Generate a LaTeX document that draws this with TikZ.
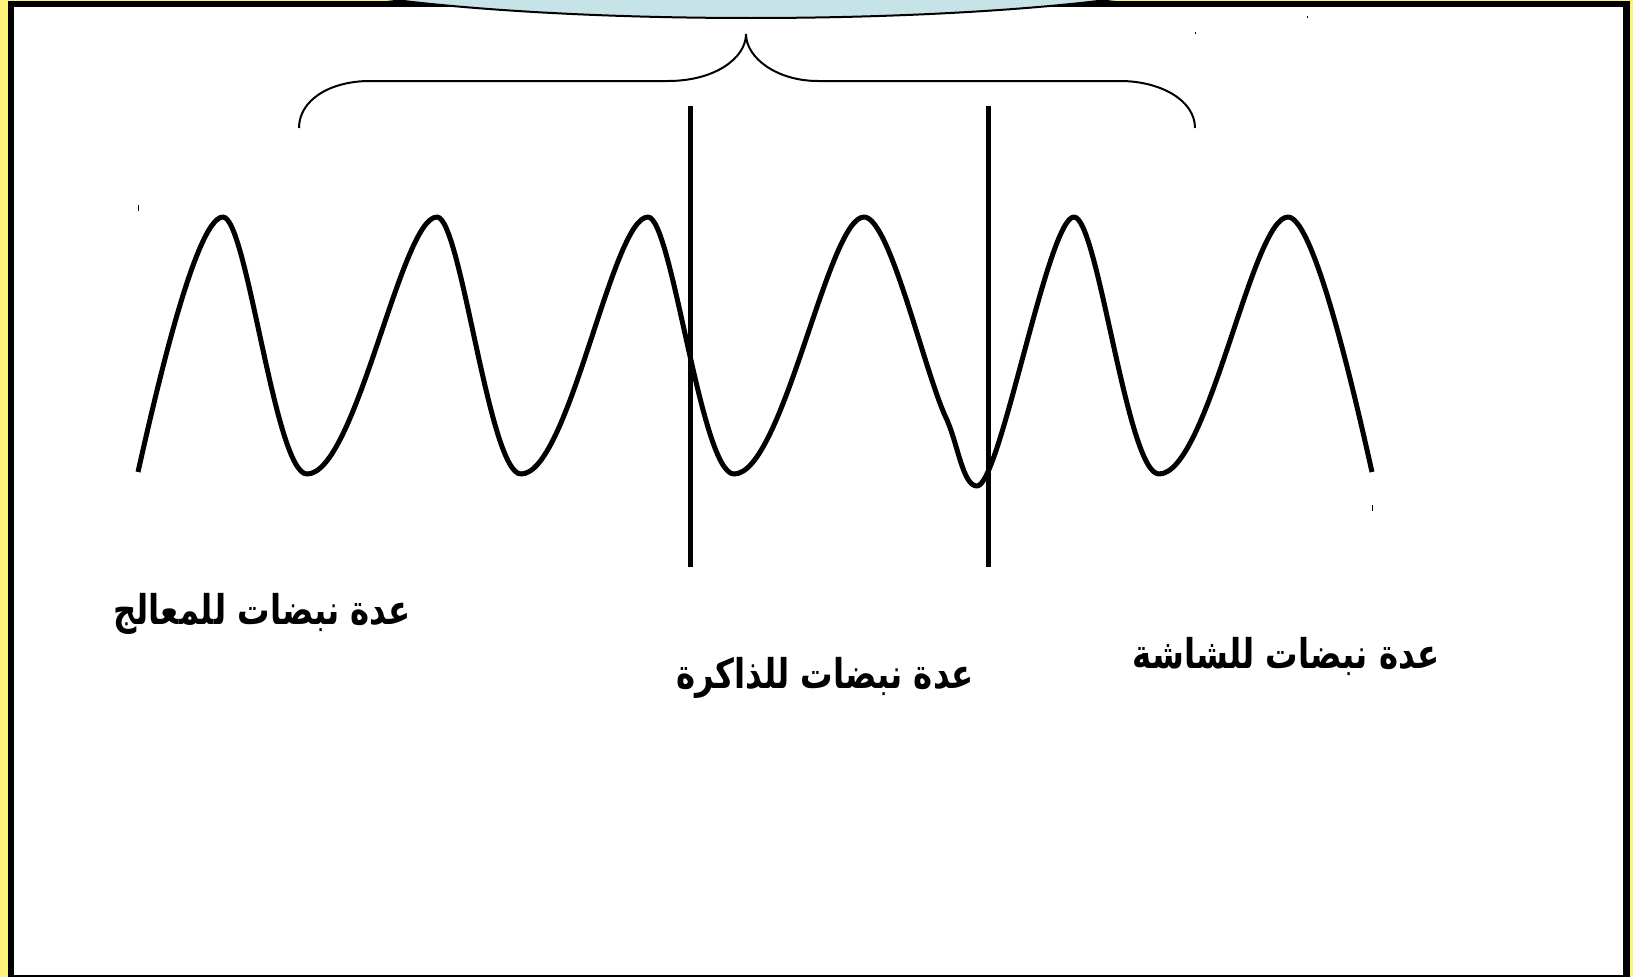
\documentclass[tikz,border=0pt]{standalone}
\usepackage{fontspec}
\TeXXeTstate=1
\newfontfamily\arabicfont[Script=Arabic]{DejaVu Sans}
\definecolor{frameyellow}{RGB}{255,242,122}
\definecolor{ellblue}{RGB}{198,228,232}
\tikzset{
  wave/.style={line width=5pt, line join=round},
  divider/.style={line width=5pt},
  bracepath/.style={line width=2pt},
  lbl/.style={anchor=base, inner sep=0pt, font=\arabicfont\bfseries\fontsize{41}{46}\selectfont},
  speck/.style={line width=1pt}
}
\begin{document}
\begin{tikzpicture}[x=1pt,y=-1pt]
\useasboundingbox (0,0) rectangle (1633,977);
\clip (0,0) rectangle (1633,977);
% frame
\fill[frameyellow] (0,0) rectangle (1633,977);
\fill[black] (8,1) rectangle (1630,977);
\fill[white] (14,7) rectangle (1623,975);
% ellipse at the top (cut off)
\draw[fill=ellblue, line width=2pt] (751,-44) ellipse [x radius=505, y radius=62];
% brace
\draw[bracepath] (299,128) .. controls (299,100) and (330,81) .. (370,81) -- (668,81)
  .. controls (715,81) and (746,58) .. (746,34)
  .. controls (746,58) and (777,81) .. (818,81) -- (1120,81)
  .. controls (1160,81) and (1195,100) .. (1195,128);
% dividers
\coordinate (d1t) at (690.5,106); \coordinate (d1b) at (690.5,567);
\coordinate (d2t) at (988.5,106); \coordinate (d2b) at (988.5,567);
\draw[divider] (d1t) -- (d1b);
\draw[divider] (d2t) -- (d2b);
% wave
\draw[wave] (138,472) .. controls (152,410) and (195,217) .. (223,217)
  .. controls (247,217) and (275,474) .. (307,474)
  .. controls (356,474) and (401,217) .. (437,217)
  .. controls (461,217) and (489,474) .. (521,474)
  .. controls (569,474) and (612,217) .. (648,217)
  .. controls (672,217) and (701,474) .. (734,474)
  .. controls (783,474) and (828,217) .. (864,217)
  .. controls (890,217) and (925,375) .. (947,420)
  .. controls (958,445) and (963,486) .. (977,486)
  .. controls (1000,486) and (1048,217) .. (1074,217)
  .. controls (1098,217) and (1127,474) .. (1159,474)
  .. controls (1208,474) and (1252,217) .. (1288,217)
  .. controls (1315,217) and (1358,410) .. (1372,472);
% small specks
\draw[speck] (138,205) -- (138,211);
\draw[speck] (1372,505) -- (1372,511);
\draw[speck] (1307,16) -- (1307,18);
\draw[speck] (1195,32) -- (1195,34);
% labels
\node[lbl] (cpu) at (262,624) {\scalebox{0.79}[1]{\beginR عدة نبضات للمعالج\endR}};
\node[lbl] (mem) at (825,688) {\scalebox{0.79}[1]{\beginR عدة نبضات للذاكرة\endR}};
\node[lbl] (scr) at (1286,668) {\scalebox{0.79}[1]{\beginR عدة نبضات للشاشة\endR}};
\end{tikzpicture}
\end{document}
